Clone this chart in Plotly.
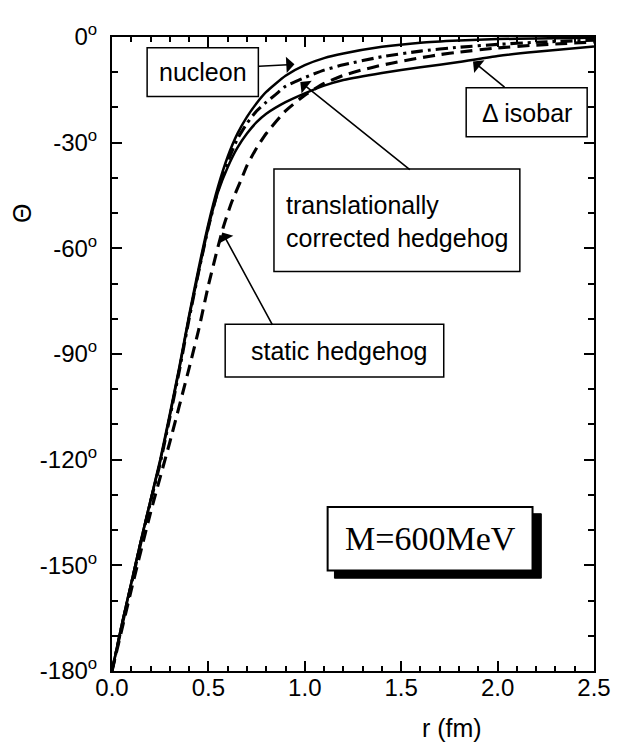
import plotly.graph_objects as go

# ---------------- data ----------------
r_nucleon = [0, 0.05, 0.1, 0.15, 0.2, 0.25, 0.3, 0.35, 0.4, 0.45, 0.5, 0.55, 0.6, 0.65, 0.7, 0.75,
             0.8, 0.9, 1.0, 1.1, 1.2, 1.4, 1.6, 1.8, 2.0, 2.2, 2.5]
th_nucleon = [-180, -167, -155, -143, -131.5, -120, -107, -93.5, -79, -65.5, -53, -42.5, -34, -27.5,
              -22.7, -18.8, -15.6, -11, -8, -6, -4.7, -2.8, -1.6, -1.0, -0.6, -0.4, -0.2]

r_delta = [0, 0.05, 0.1, 0.15, 0.2, 0.25, 0.3, 0.35, 0.4, 0.45, 0.5, 0.55, 0.6, 0.65, 0.7, 0.75,
           0.8, 0.9, 1.0, 1.1, 1.2, 1.4, 1.6, 1.8, 2.0, 2.2, 2.5]
th_delta = [-180, -167, -155, -143, -131.5, -120.5, -107.5, -94, -79.5, -66.5, -54, -44, -37, -31.5,
            -27.4, -24.2, -21.8, -18.5, -16, -13.8, -12.2, -10.2, -8.6, -7.1, -5.4, -4.2, -2.7]

r_trans = [0, 0.05, 0.1, 0.15, 0.2, 0.25, 0.3, 0.35, 0.4, 0.45, 0.5, 0.55, 0.6, 0.65, 0.7, 0.75,
           0.8, 0.85, 0.9, 1.0, 1.1, 1.2, 1.4, 1.6, 1.8, 2.0, 2.2, 2.5]
th_trans = [-180, -167.5, -155.5, -143.5, -132, -121, -108, -94.5, -80, -66.5, -54, -43.5, -35.5,
            -29, -24.5, -21, -18.5, -16.3, -14, -11.5, -9.4, -7.9, -5.6, -4.0, -2.9, -2.1, -1.5, -0.9]

r_static = [0, 0.1, 0.2, 0.3, 0.4, 0.45, 0.5, 0.55, 0.58, 0.62, 0.67, 0.7, 0.75, 0.8, 0.9, 1.0,
            1.1, 1.2, 1.3, 1.4, 1.5, 1.6, 1.7, 1.8, 2.0, 2.2, 2.5]
th_static = [-180, -157, -135, -115, -94, -83, -70.5, -59.5, -53.5, -47, -40.5, -36.5, -31.5, -27.4,
             -21, -16.5, -13.2, -10.9, -9.3, -8.0, -6.9, -5.9, -5.0, -4.3, -3.1, -2.3, -1.4]

x_ticks = [0, 0.5, 1.0, 1.5, 2.0, 2.5]
x_ticklabels = ["0.0", "0.5", "1.0", "1.5", "2.0", "2.5"]
y_ticks = [-180, -150, -120, -90, -60, -30, 0]
y_ticklabels = ["-180<sup>o</sup>", "-150<sup>o</sup>", "-120<sup>o</sup>", "-90<sup>o</sup>",
                "-60<sup>o</sup>", "-30<sup>o</sup>", "0<sup>o</sup>"]

# ---------------- layout geometry (screen pixels) ----------------
SCREEN_W, SCREEN_H = 623, 750
OFF = 8  # default page body margin
W, H = SCREEN_W - OFF, SCREEN_H - OFF
L, R, T, B = 112, 606, 22, 671  # plot area in screen pixels


def px(x, y):
    return (x - L) / (R - L), (B - y) / (B - T)


SANS = "Arial, Liberation Sans, Helvetica, sans-serif"
SERIF = "Times New Roman, Liberation Serif, serif"

fig = go.Figure()
lw = 2.5
fig.add_trace(go.Scatter(x=r_static, y=th_static, mode="lines", name="static hedgehog",
                         line=dict(color="black", width=lw + 0.6, dash="12px,7px", shape="spline", smoothing=0.5)))
fig.add_trace(go.Scatter(x=r_trans, y=th_trans, mode="lines", name="translationally corrected hedgehog",
                         line=dict(color="black", width=lw + 0.6, dash="12px,5px,3px,5px", shape="spline", smoothing=0.5)))
fig.add_trace(go.Scatter(x=r_delta, y=th_delta, mode="lines", name="Δ isobar",
                         line=dict(color="black", width=lw, shape="spline", smoothing=0.5)))
fig.add_trace(go.Scatter(x=r_nucleon, y=th_nucleon, mode="lines", name="nucleon",
                         line=dict(color="black", width=lw, shape="spline", smoothing=0.5)))

shapes = []
annotations = []


def box(x0, y0, x1, y1, fill="white", width=1.5):
    a0, b0 = px(x0, y1)
    a1, b1 = px(x1, y0)
    shapes.append(dict(type="rect", xref="paper", yref="paper", x0=a0, y0=b0, x1=a1, y1=b1,
                       line=dict(color="black", width=width), fillcolor=fill, layer="above"))


def text(x, y, s, size=25, family=SANS, xanchor="center", align="center", angle=0):
    a, b = px(x, y)
    annotations.append(dict(xref="paper", yref="paper", x=a, y=b, text=s, showarrow=False,
                            xanchor=xanchor, yanchor="middle", align=align, textangle=angle,
                            font=dict(family=family, size=size, color="black")))


def arrow(tail, tip):
    a, b = px(*tip)
    annotations.append(dict(xref="paper", yref="paper", x=a, y=b, text="", showarrow=True,
                            axref="pixel", ayref="pixel", ax=tail[0] - tip[0], ay=tail[1] - tip[1],
                            arrowhead=1, arrowsize=1.7, arrowwidth=1.6, arrowcolor="black", standoff=0))


# nucleon label
box(148, 33, 262, 83)
text(205, 58, "nucleon")
arrow((262, 52), (299, 50))

# delta isobar label
box(475, 74, 599, 124)
text(537, 100, "Δ isobar")
arrow((515, 74), (482, 47))

# translationally corrected hedgehog label
box(278, 157, 530, 262)
text(288, 211, "translationally<br>corrected hedgehog", xanchor="left", align="left")
arrow((416, 157), (305, 68))

# static hedgehog label
box(228, 316, 452, 370)
text(252, 343, "static hedgehog", xanchor="left", align="left")
arrow((276, 316), (225, 222))

# M=600MeV with shadow
box(340, 510, 552, 576, fill="black", width=1)
box(333, 503, 543, 568, width=2)
text(438, 535, "M=600MeV", size=34, family=SERIF)

# axis titles
text(460, 729, "r (fm)")
text(20, 203, "Θ", angle=-90)

axis_common = dict(showline=True, linecolor="black", linewidth=2, mirror="ticks", ticks="inside",
                   tickcolor="black", tickwidth=2, ticklen=10, showgrid=False, zeroline=False,
                   ticklabeloverflow="allow",
                   tickfont=dict(family=SANS, size=24, color="black"))

fig.update_layout(
    width=W, height=H,
    margin=dict(l=L - OFF, r=SCREEN_W - R, t=T - OFF, b=SCREEN_H - B),
    paper_bgcolor="white", plot_bgcolor="white",
    showlegend=False,
    shapes=shapes, annotations=annotations,
    xaxis=dict(range=[0, 2.5], tickvals=x_ticks, ticktext=x_ticklabels, ticklabelstandoff=-6,
               minor=dict(dtick=0.1, tick0=0, ticks="inside", ticklen=5, tickwidth=1.5, tickcolor="black"),
               **axis_common),
    yaxis=dict(range=[-180, 0], tickvals=y_ticks, ticktext=y_ticklabels, ticklabelstandoff=8,
               minor=dict(dtick=10, tick0=0, ticks="inside", ticklen=6, tickwidth=1.5, tickcolor="black"),
               **axis_common),
)

fig.write_html("out.html")
